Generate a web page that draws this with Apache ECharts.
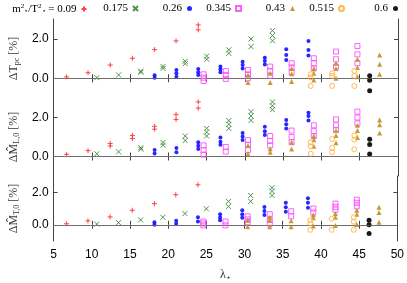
<!DOCTYPE html>
<html><head><meta charset="utf-8">
<script src="https://cdn.jsdelivr.net/npm/echarts@6/dist/echarts.min.js"></script>
<style>html,body{margin:0;padding:0;background:#fff}#c{width:407px;height:283px}</style>
</head><body><div id="c"></div>
<script>
// ratio labels m^2/T^2
const ratios = ['0.09', '0.175', '0.26', '0.345', '0.43', '0.515', '0.6'];
// lambda positions per ratio
const lam_009  = [6.7, 9.5, 12.4, 15.3, 18.2, 21.0, 23.9];
const lam_0175 = [10.65, 13.5, 16.4, 19.3, 22.2, 25.0, 27.9, 30.8, 33.6];
const lam_026  = [18.2, 21.05, 23.9, 26.8, 29.7, 32.6, 35.4, 38.3];
const lam_0345 = [24.6, 27.5, 30.4, 33.3, 36.1, 39.0, 41.9, 44.7];
const lam_043  = [30.4, 33.3, 36.1, 39.0, 41.9, 44.7, 47.6];
const lam_0515 = [38.6, 41.4, 44.3];
const lam_06   = [46.3];
// panel 1: Delta T_pc [%]
const tpc_009  = [[0.07],[0.28],[0.67],[1.01],[1.45],[1.89],[2.70,2.45]];
const tpc_0175 = [[0.03],[0.17],[0.36,0.3],[0.6,0.5],[0.86,0.74],[1.12,0.96],[1.44,1.26],[1.99,1.6],[2.41,2.16,1.9]];
const tpc_026  = [[0.15,0.02],[0.42,0.25,0.08],[0.47,0.3,0.17],[0.6,0.45,0.3],[0.84,0.67,0.5],[1.04,0.87,0.7],[1.47,1.18,0.93],[1.89,1.43,1.15]];
const tpc_0345 = [[0.2,0.03,-0.14],[0.37,0.17,-0.03],[0.42,0.2,0.0],[0.59,0.37,0.13],[0.76,0.55,0.3],[1.01,0.76,0.5],[1.35,0.96,0.59],[1.63,1.21,0.76]];
const tpc_043  = [[0.17,-0.22],[0.25,-0.22],[0.5,0.23,-0.17],[0.5,0.25,-0.09],[0.76,0.5,0.0],[0.96,0.54,0.08],[1.18,0.71,0.2]];
const tpc_0515 = [[0.2,0.05,-0.39],[0.25,0.12,-0.39],[0.37,0.12,-0.39]];
const tpc_06   = [[0.13,-0.1,-0.63]];
// panel 2: Delta M_L,0 [%]
const ml_009  = [[0.11],[0.3],[0.67,0.54],[1.08,0.92],[1.55,1.4],[2.15,1.9],[2.8,2.48]];
const ml_0175 = [[0.14],[0.24],[0.45,0.37],[0.72,0.58],[1.05,0.82],[1.44,1.25,1.05],[1.84,1.65,1.44],[2.3,2.08,1.85],[2.8,2.6,2.4]];
const ml_026  = [[0.33,0.15],[0.44,0.22],[0.73,0.55,0.38],[0.97,0.76,0.6],[1.2,1.02,0.84],[1.52,1.3,1.1],[1.87,1.65,1.43],[2.24,2.08,1.84]];
const ml_0345 = [[0.57,0.33,0.1],[0.49,0.25],[0.84,0.6,0.33],[1.05,0.8,0.57],[1.33,1.0,0.73],[1.6,1.3,1.05],[1.9,1.6,1.36],[2.3,2.0,1.7]];
const ml_043  = [[0.57,0.14],[0.4,0.22],[0.73,0.38],[1.05,0.86,0.52],[1.33,1.08,0.7],[1.6,1.33,0.97],[1.87,1.63,1.2]];
const ml_0515 = [[0.73,0.52,0.14],[0.89,0.44,0.22],[1.08,0.86,0.37]];
const ml_06   = [[0.89,0.62,0.13]];
// panel 3: Delta M_T,0 [%]
const mt_009  = [[0.06],[0.24],[0.48],[0.89],[1.3],[1.85],[2.46]];
const mt_0175 = [[0.04],[0.13],[0.3],[0.46],[0.69],[0.98],[1.44,1.13],[1.8,1.44],[2.28,2.06,1.8]];
const mt_026  = [[0.15,0.0],[0.24,0.06],[0.46,0.2],[0.65,0.45,0.28],[0.89,0.65,0.43],[1.1,0.85,0.6],[1.35,1.07,0.8],[1.63,1.35,1.04]];
const mt_0345 = [[0.2,0.08,-0.04],[0.2,-0.04],[0.52,0.33,0.15],[0.65,0.3,0.06],[0.83,0.52],[1.0,0.75],[1.3,1.1,0.93],[1.54,1.35,1.13]];
const mt_043  = [[0.28,-0.13],[0.46,0.3,-0.13],[0.24,-0.13],[0.61,0.43,-0.07],[0.7,0.46,-0.04],[0.89,0.65,0.02],[1.07,0.76,0.15]];
const mt_0515 = [[0.28,0.09,-0.31],[0.37,-0.31],[0.46,0.19,-0.31]];
const mt_06   = [[0.28,0.0,-0.54]];
// axis ticks
const xTicks = {min: 5, max: 50, step: 5};
const yTickVals = [0, 2];

const lams = [lam_009, lam_0175, lam_026, lam_0345, lam_043, lam_0515, lam_06];
const panels = [
  [tpc_009, tpc_0175, tpc_026, tpc_0345, tpc_043, tpc_0515, tpc_06],
  [ml_009, ml_0175, ml_026, ml_0345, ml_043, ml_0515, ml_06],
  [mt_009, mt_0175, mt_026, mt_0345, mt_043, mt_0515, mt_06]
];

const styles = [
  {symbol: 'path://M0,5L10,5M5,0L5,10', size: 5, item: {color: 'none', borderColor: '#ff3030', borderWidth: 1}},
  {symbol: 'path://M0,0L10,10M10,0L0,10', size: 5, item: {color: 'none', borderColor: '#3a8a3a', borderWidth: 1}},
  {symbol: 'circle', size: 4, item: {color: '#1010ff'}},
  {symbol: 'rect', size: 5, item: {color: 'none', borderColor: '#ff50ff', borderWidth: 1}},
  {symbol: 'triangle', size: 5, item: {color: '#c09020'}},
  {symbol: 'circle', size: 5, item: {color: 'none', borderColor: '#ffb040', borderWidth: 1}},
  {symbol: 'circle', size: 5, item: {color: '#000000'}}
];

const grids = [
  {left: 45, right: 9, top: 19, height: 79},
  {left: 45, right: 9, top: 98, height: 78},
  {left: 45, right: 9, top: 176, height: 73}
];
const serif = 'Liberation Serif';
const sans = 'Liberation Sans';
const yNames = [
  '{a|ΔT}{s|pc}{a| [%]}',
  '{a|ΔM̂}{s|L,0}{a| [%]}',
  '{a|ΔM̂}{s|T,0}{a| [%]}'
];
const nameRich = {
  a: {fontFamily: serif, fontSize: 12, color: '#333'},
  s: {fontFamily: serif, fontSize: 8, color: '#333', padding: [6, 0, 0, 0]}
};

const xAxes = [], yAxes = [], series = [];
const axisLine = {show: true, lineStyle: {color: '#444', width: 1}};
grids.forEach((g, i) => {
  const base = {gridIndex: i, type: 'value', min: xTicks.min, max: xTicks.max, interval: xTicks.step,
    splitLine: {show: false}, axisLine: axisLine,
    axisTick: {inside: true, length: 4, lineStyle: {color: '#444'}}};
  xAxes.push(Object.assign({}, base, {position: 'bottom',
    axisLabel: {show: i === 2, fontFamily: sans, fontSize: 12, color: '#000', margin: 8},
    name: i === 2 ? '{a|λ}{s|⋆}' : '', nameLocation: 'middle', nameGap: 27,
    nameTextStyle: {rich: nameRich}}));
  xAxes.push(Object.assign({}, base, {position: 'top', axisLabel: {show: false}}));
  const ybase = {gridIndex: i, type: 'value', min: -1, max: 3, splitLine: {show: false}, axisLine: axisLine,
    axisTick: {inside: true, length: 4, customValues: yTickVals, lineStyle: {color: '#444'}}};
  yAxes.push(Object.assign({}, ybase, {position: 'left',
    axisLabel: {customValues: yTickVals, formatter: v => v.toFixed(1), fontFamily: sans, fontSize: 12, color: '#000', margin: 5},
    name: yNames[i], nameLocation: 'middle', nameGap: 32, nameRotate: 90,
    nameTextStyle: {rich: nameRich}}));
  yAxes.push(Object.assign({}, ybase, {position: 'right', axisLabel: {show: false}}));

  panels[i].forEach((vals, k) => {
    const data = [];
    lams[k].forEach((lx, j) => { vals[j].forEach(v => data.push([lx, v])); });
    const st = styles[k];
    const s = {
      type: 'scatter', name: ratios[k], xAxisIndex: 2 * i, yAxisIndex: 2 * i,
      symbol: st.symbol, symbolSize: st.size, itemStyle: Object.assign({opacity: 0.9}, st.item),
      data: data, silent: true
    };
    if (k === 0) {
      s.markLine = {silent: true, symbol: 'none', label: {show: false}, animation: false,
        lineStyle: {color: '#999', type: 'dotted', width: 1}, data: [{yAxis: 0}]};
    }
    series.push(s);
  });
});

const legendRich = {
  n: {fontFamily: serif, fontSize: 11, color: '#000'},
  s: {fontFamily: serif, fontSize: 7, color: '#000', padding: [5, 0, 0, 0]},
  p: {fontFamily: serif, fontSize: 7, color: '#000', padding: [0, 0, 5, 0]}
};
const legends = ratios.map((r, k) => ({
  data: [r], right: 318 - 51.5 * k, top: 3, padding: 0, align: 'right',
  itemWidth: 5, itemHeight: 5, selectedMode: false,
  formatter: k === 0 ? '{n|m}{p|2}{s|⋆}{n|/T}{p|2}{s|⋆}{n| = 0.09}' : '{n|' + r + '}',
  textStyle: {rich: legendRich}
}));

const chart = echarts.init(document.getElementById('c'), null, {renderer: 'canvas'});
chart.setOption({
  animation: false,
  backgroundColor: '#fff',
  grid: grids,
  xAxis: xAxes,
  yAxis: yAxes,
  legend: legends,
  series: series
});
</script></body></html>
